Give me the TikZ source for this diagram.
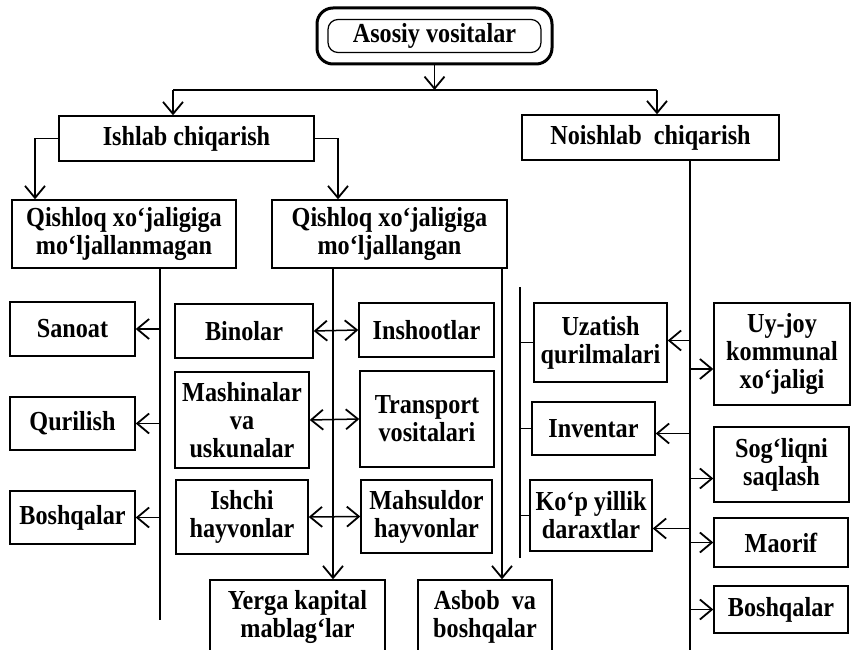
\documentclass[tikz,border=0pt]{standalone}
\usepackage{fontspec}
\setmainfont{Liberation Serif}[FakeStretch=0.88]
\usepackage{tikz}
\usetikzlibrary{arrows.meta, positioning}

\begin{document}
\begin{tikzpicture}[
  x=1pt, y=-1pt,
  box/.style={draw=black, line width=1.4pt, inner sep=0pt, align=center,
    font=\bfseries\fontsize{27.5}{28}\selectfont},
  outer/.style={draw=black, line width=3pt, rounded corners=16pt},
  inner/.style={box, line width=1.2pt, rounded corners=10pt},
  line/.style={line width=1.5pt},
  arrow/.style={line, -{Straight Barb[length=12pt,width=20pt,line width=1.8pt]}},
  arrows2/.style={line, {Straight Barb[length=12pt,width=20pt,line width=1.8pt]}-{Straight Barb[length=12pt,width=20pt,line width=1.8pt]}}
]
\clip (0,0) rectangle (852,650);

\node[outer, minimum width=235pt, minimum height=56pt] (AV) at (434.5,36) {};
\node[inner, minimum width=213pt, minimum height=33pt] (AVT) at (AV) {Asosiy vositalar};

\node[box, minimum width=255pt, minimum height=45pt] (IC) at (186.5,138.5) {Ishlab chiqarish};
\node[box, minimum width=257pt, minimum height=45pt] (NC) at (650.5,137.5) {Noishlab\ \ chiqarish};

\node[box, minimum width=224pt, minimum height=68pt] (QM) at (124,234) {Qishloq xo‘jaligiga\\mo‘ljallanmagan};
\node[box, minimum width=235pt, minimum height=68pt] (QL) at (389.5,234) {Qishloq xo‘jaligiga\\mo‘ljallangan};

\node[box, minimum width=125pt, minimum height=54pt] (SA) at (72.5,329) {Sanoat};
\node[box, minimum width=125pt, minimum height=53pt] (QU) at (72.5,423.5) {Qurilish};
\node[box, minimum width=125pt, minimum height=53pt] (BL) at (72.5,517.5) {Boshqalar};

\node[box, minimum width=138pt, minimum height=54pt] (BI) at (244,331) {Binolar};
\node[box, minimum width=135pt, minimum height=54pt] (IN) at (426.5,330) {Inshootlar};
\node[box, minimum width=134pt, minimum height=96pt] (MV) at (242,420) {Mashinalar\\va\\uskunalar};
\node[box, minimum width=134pt, minimum height=96pt] (TV) at (427,419) {Transport\\vositalari};
\node[box, minimum width=132pt, minimum height=74pt] (IH) at (242,517) {Ishchi\\hayvonlar};
\node[box, minimum width=131pt, minimum height=73pt] (MH) at (426.5,516.5) {Mahsuldor\\hayvonlar};

\node[box, minimum width=175pt, minimum height=74pt] (YK) at (297.5,617) {Yerga kapital\\mablag‘lar};
\node[box, minimum width=134pt, minimum height=74pt] (AB) at (485,617) {Asbob\ \ va\\boshqalar};

\node[box, minimum width=133pt, minimum height=79pt] (UZ) at (600.5,342.5) {Uzatish\\qurilmalari};
\node[box, minimum width=123pt, minimum height=53pt] (IV) at (593.5,428.5) {Inventar};
\node[box, minimum width=122pt, minimum height=71pt] (KY) at (591,515.5) {Ko‘p yillik\\daraxtlar};

\node[box, minimum width=136pt, minimum height=102pt] (UJ) at (782,354) {Uy-joy\\kommunal\\xo‘jaligi};
\node[box, minimum width=135pt, minimum height=75pt] (SQ) at (781.5,464.5) {Sog‘liqni\\saqlash};
\node[box, minimum width=134pt, minimum height=49pt] (MA) at (781,542.5) {Maorif};
\node[box, minimum width=134pt, minimum height=47pt] (BR) at (781,609.5) {Boshqalar};

\coordinate (H1) at (173,90);
\coordinate (H2) at (657,90);
\coordinate (C1) at (35,0);
\coordinate (C2) at (338,0);
\coordinate (V1) at (160,620);
\coordinate (V2) at (333,0);
\coordinate (V3) at (502,0);
\coordinate (T1) at (520,287);
\coordinate (T2) at (520,558);
\coordinate (V5) at (690,650);

\draw[arrow] (AV.south) -- (AV.south |- H1);
\draw[line] (H1) -- (H2);
\draw[arrow] (H1) -- (H1 |- IC.north);
\draw[arrow] (H2) -- (H2 |- NC.north);

\draw[arrow] (IC.west) -| (QM.north -| C1);
\draw[arrow] (IC.east) -| (QL.north -| C2);

\draw[line] (QM.south -| V1) -- (V1);
\draw[arrow] (V1 |- SA.east) -- (SA.east);
\draw[arrow] (V1 |- QU.east) -- (QU.east);
\draw[arrow] (V1 |- BL.east) -- (BL.east);

\draw[arrow] (QL.south -| V2) -- (V2 |- YK.north);
\draw[arrow] (QL.south -| V3) -- (V3 |- AB.north);

\draw[arrows2] (BI.east) -- (IN.west);
\draw[arrows2] (MV.east) -- (TV.west);
\draw[arrows2] (IH.east) -- (MH.west);

\draw[line] (T1) -- (T2);
\draw[line] (T1 |- UZ.west) -- (UZ.west);
\draw[line] (T1 |- IV.west) -- (IV.west);
\draw[line] (T1 |- KY.west) -- (KY.west);

\coordinate (uz) at ([yshift=2pt]UZ.east);
\coordinate (iv) at ([yshift=-5pt]IV.east);
\coordinate (ky) at ([yshift=-13pt]KY.east);
\coordinate (uj) at ([yshift=-15pt]UJ.west);
\coordinate (sq) at ([yshift=-14pt]SQ.west);

\draw[line] (NC.south -| V5) -- (V5);
\draw[arrow] (V5 |- uz) -- (uz);
\draw[arrow] (V5 |- iv) -- (iv);
\draw[arrow] (V5 |- ky) -- (ky);
\draw[arrow] (V5 |- uj) -- (uj);
\draw[arrow] (V5 |- sq) -- (sq);
\draw[arrow] (V5 |- MA.west) -- (MA.west);
\draw[arrow] (V5 |- BR.west) -- (BR.west);

\end{tikzpicture}
\end{document}
